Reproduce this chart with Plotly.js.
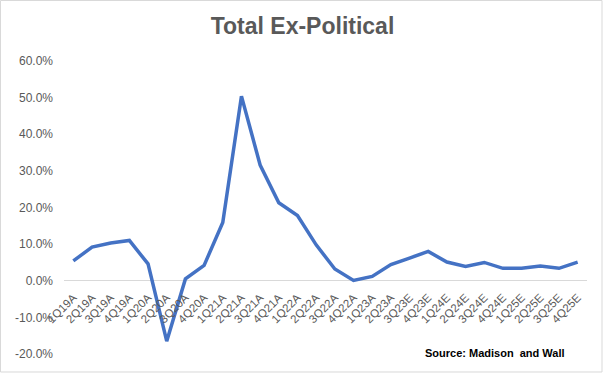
<!DOCTYPE html>
<html>
<head>
<meta charset="utf-8">
<script src="https://cdn.plot.ly/plotly-3.0.1.min.js"></script>
<style>html,body{margin:0;padding:0;background:#fff;}#chart{width:605px;height:374px;}</style>
</head>
<body>
<div id="chart"></div>
<script>
const quarters = ["1Q19A","2Q19A","3Q19A","4Q19A","1Q20A","2Q20A","3Q20A","4Q20A","1Q21A","2Q21A","3Q21A","4Q21A","1Q22A","2Q22A","3Q22A","4Q22A","1Q23A","2Q23A","3Q23E","4Q23E","1Q24E","2Q24E","3Q24E","4Q24E","1Q25E","2Q25E","3Q25E","4Q25E"];
const growthPct = [5.4,9.2,10.3,11.0,4.6,-16.5,0.5,4.2,15.9,50.4,31.6,21.3,17.8,9.8,3.2,0.1,1.2,4.4,6.2,8.0,5.1,3.9,5.0,3.4,3.4,4.0,3.4,5.1];
const yTicks = [-20,-10,0,10,20,30,40,50,60];
const titleText = "Total Ex-Political";
const sourceText = "Source: Madison  and Wall";

const trace = {
  x: quarters, y: growthPct, type: "scatter", mode: "lines",
  line: {color: "#4472C4", width: 3.5},
  hoverinfo: "skip"
};
const layout = {
  width: 605, height: 374,
  margin: {l: 64, r: 18, t: 61, b: 20},
  paper_bgcolor: "#fff", plot_bgcolor: "#fff",
  showlegend: false,
  font: {family: "Liberation Sans, Arial, sans-serif", color: "#595959"},
  title: {text: "<b>" + titleText + "</b>", x: 0.5, xanchor: "center", y: 0.93, yanchor: "middle",
          font: {size: 23, color: "#595959", family: "Liberation Sans, Arial, sans-serif"}},
  xaxis: {
    type: "category", range: [-0.5, 27.5],
    anchor: "free", position: 0.25,
    showline: false, showgrid: false, zeroline: false,
    tickangle: -45, ticks: "", ticklen: 0, ticklabelstandoff: 7,
    tickfont: {size: 11.5, color: "#595959"}
  },
  yaxis: {
    range: [-20, 60], tickvals: yTicks,
    ticktext: yTicks.map(v => v.toFixed(1) + "%"),
    showgrid: false, zeroline: true, zerolinecolor: "#d9d9d9", zerolinewidth: 1,
    showline: false, ticks: "", ticklabelstandoff: 10,
    tickfont: {size: 12, color: "#595959"}
  },
  annotations: [{
    text: "<b>" + sourceText + "</b>", xref: "paper", yref: "paper",
    x: 0.962, y: 0.003, xanchor: "right", yanchor: "middle", showarrow: false,
    font: {size: 11, color: "#000"}
  }],
  shapes: [{type: "rect", xref: "paper", yref: "paper", x0: -0.1214, x1: 1.0287, y0: -0.0614, y1: 1.2065,
    line: {color: "#d9d9d9", width: 1}, fillcolor: "rgba(0,0,0,0)", layer: "below"}]
};
Plotly.newPlot("chart", [trace], layout, {displayModeBar: false, staticPlot: true});
</script>
</body>
</html>
